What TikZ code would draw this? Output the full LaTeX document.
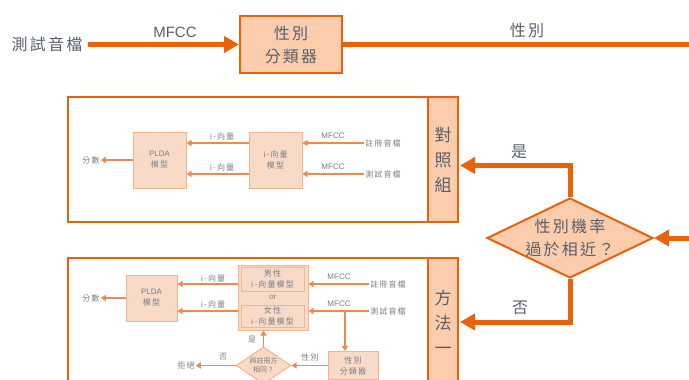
\documentclass[tikz,border=0pt]{standalone}
\usepackage{fontspec}
\setmainfont{Liberation Sans}
\newfontfamily\cjk{Noto Sans CJK TC}
\newfontfamily\cjks[LetterSpace=14]{Noto Sans CJK TC}
\usetikzlibrary{shapes.geometric,arrows.meta,calc}
\definecolor{mainor}{RGB}{232,98,10}
\definecolor{peach}{RGB}{251,205,172}
\definecolor{fadefill}{RGB}{249,218,198}
\definecolor{fadeline}{RGB}{242,182,142}
\definecolor{fadearrow}{RGB}{234,140,82}
\definecolor{maintext}{RGB}{88,96,108}
\definecolor{fadetext}{RGB}{120,126,136}
\tikzset{
  lbl/.style={font=\cjks\fontsize{16}{18}\selectfont, text=maintext, inner sep=1pt},
  mainbox/.style={draw=mainor, line width=2pt, fill=peach, align=center, font=\cjks\fontsize{16}{23}\selectfont, text=maintext, inner sep=0pt},
  mainarrow/.style={draw=mainor, line width=5pt, -{Triangle[length=15pt,width=16pt]}},
  mainline/.style={draw=mainor, line width=5pt},
  panel/.style={draw=mainor, line width=2pt, fill=white, inner sep=0pt},
  sidebar/.style={draw=mainor, line width=2pt, fill=peach, inner sep=0pt, align=center, font=\cjk\fontsize{17}{25}\selectfont, text=maintext},
  fbox/.style={draw=fadeline, line width=1pt, fill=fadefill, align=center, font=\cjks\fontsize{8}{11}\selectfont, text=fadetext, inner sep=0pt},
  ftxt/.style={font=\cjks\fontsize{8}{10}\selectfont, text=fadetext, inner sep=1pt},
  fmf/.style={font=\fontsize{8}{10}\selectfont, text=fadetext, inner sep=1pt},
  farrow/.style={draw=fadearrow, line width=1.6pt, -{Triangle[length=5pt,width=6pt]}},
}
\begin{document}
\begin{tikzpicture}[x=1pt,y=-1pt]
\useasboundingbox (0,0) rectangle (689,380);
\clip (0,0) rectangle (689,380);
% top row
\node[lbl] (in) at (47,44.5) {測試音檔};
\node[mainbox, minimum width=102pt, minimum height=57pt] (gc) at (291,44.5) {性別\\分類器};
\draw[mainarrow] ($(in.east)+(4,0)$) -- (gc.west);
\node[font=\fontsize{15}{17}\selectfont, text=maintext] at (175,32) {MFCC};
\coordinate (rt) at (689,44.5);
\draw[mainline] (gc.east) -- (rt);
\node[lbl] at (527,30) {性別};
% decision diamond
\node[diamond, draw=mainor, line width=2pt, fill=peach, minimum width=166pt, minimum height=80pt, inner sep=0pt] (dm) at (570,238) {};
\node[align=center, font=\cjks\fontsize{16}{23}\selectfont, text=maintext, inner sep=0pt] (dmt) at (dm.center) {性別機率\\過於相近？};
\coordinate (rin) at (689,238);
\draw[mainarrow] (rin) -- (dm.east);
% top panel
\node[panel, minimum width=360pt, minimum height=125pt] (p1) at (248,159.5) {};
\node[sidebar, minimum width=30pt, minimum height=125pt] (s1) at (443,159.5) {對\\照\\組};
\draw[mainarrow] (dm.north) |- ($(s1.east)+(1,6)$);
\node[lbl] at (519,152) {是};
% bottom panel
\node[panel, minimum width=360pt, minimum height=128pt] (p2) at (248,322) {};
\node[sidebar, minimum width=30pt, minimum height=128pt] (s2) at (443,322) {方\\法\\一};
\draw[mainarrow] (dm.south) |- ($(s2.east)+(1,0)$);
\node[lbl] at (520,308) {否};
% ---- inner top (faded)
\node[fbox, minimum width=53pt, minimum height=56pt] (pl1) at (159.5,160) {{\rmfamily PLDA}\\模型};
\node[fbox, minimum width=53pt, minimum height=56pt] (iv1) at (275.5,160) {i-向量\\模型};
\node[ftxt] (e1) at (383,143) {註冊音檔};
\node[ftxt] (t1) at (383,174) {測試音檔};
\node[ftxt] (sc1) at (91,160) {分數};
\draw[farrow] (e1.west) -- (iv1.east|-e1);
\draw[farrow] (t1.west) -- (iv1.east|-t1);
\draw[farrow] (iv1.west|-e1) -- (pl1.east|-e1);
\draw[farrow] (iv1.west|-t1) -- (pl1.east|-t1);
\draw[farrow] (pl1.west) -- (sc1.east);
\node[fmf] at (333,136) {MFCC};
\node[fmf] at (333,167) {MFCC};
\node[ftxt] at (222,136) {i-向量};
\node[ftxt] at (222,167) {i-向量};
% ---- inner bottom (faded)
\node[fbox, minimum width=51pt, minimum height=46pt] (pl2) at (151.5,298) {{\rmfamily PLDA}\\模型};
\node[fbox, minimum width=70pt, minimum height=65pt] (ob) at (273,297.5) {};
\node[fbox, minimum width=63pt, minimum height=24pt] (mb) at (272.5,279) {男性\\i-向量模型};
\node[fbox, minimum width=63pt, minimum height=22pt] (fb) at (272.5,316) {女性\\i-向量模型};
\node[fmf] at (273,297) {or};
\node[ftxt] (e2) at (388,284) {註冊音檔};
\node[ftxt] (t2) at (388,311) {測試音檔};
\node[ftxt] (sc2) at (91,298) {分數};
\draw[farrow] (e2.west) -- (ob.east|-e2);
\draw[farrow] (t2.west) -- (ob.east|-t2);
\draw[farrow] (ob.west|-e2) -- (pl2.east|-e2);
\draw[farrow] (ob.west|-t2) -- (pl2.east|-t2);
\draw[farrow] (pl2.west) -- (sc2.east);
\node[fmf] at (339,277) {MFCC};
\node[fmf] at (339,304) {MFCC};
\node[ftxt] at (213,278) {i-向量};
\node[ftxt] at (213,304) {i-向量};
\node[fbox, minimum width=50pt, minimum height=28pt] (gc2) at (353,365.5) {性別\\分類器};
\coordinate (j2) at (345,311);
\draw[farrow] (j2) -- (j2|-gc2.north);
\node[diamond, draw=fadeline, line width=1pt, fill=fadefill, minimum width=55pt, minimum height=37pt, inner sep=0pt] (dm2) at (263.5,365.5) {};
\node[align=center, font=\cjk\fontsize{7}{9}\selectfont, text=fadetext, inner sep=0pt] (dm2t) at (dm2.center) {與註冊方\\相同？};
\draw[farrow] (gc2.west) -- (dm2.east);
\node[ftxt] at (310,357) {性別};
\draw[farrow] (dm2.north) -- (dm2.north|-ob.south);
\node[ftxt] at (252,340) {是};
\node[ftxt] (rj) at (186,365.5) {拒絕};
\draw[farrow] (dm2.west) -- (rj.east);
\node[ftxt] at (223,357) {否};
\end{tikzpicture}
\end{document}
